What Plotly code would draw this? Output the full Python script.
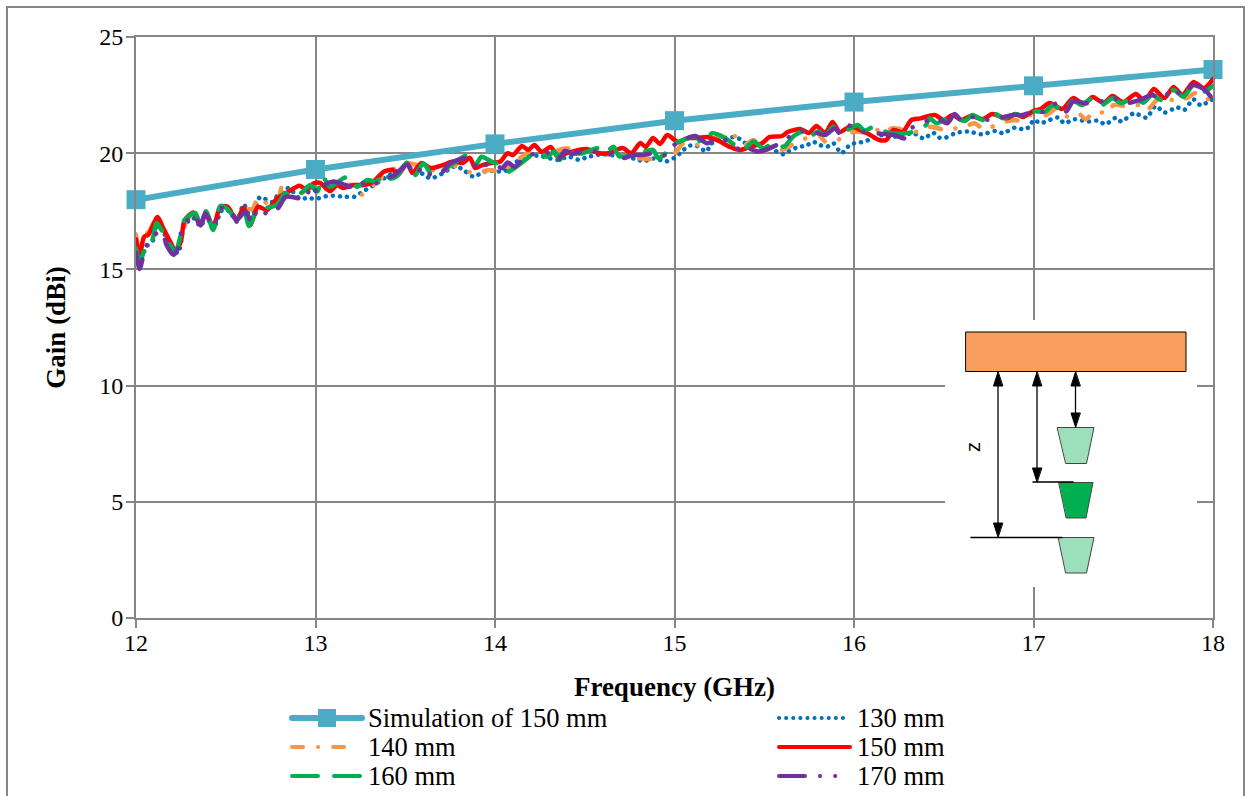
import plotly.graph_objects as go

sim_f = [12, 13, 14, 15, 16, 17, 18]
sim_g = [18.0, 19.3, 20.4, 21.4, 22.2, 22.9, 23.6]

red_f = [12.00,12.02,12.045,12.07,12.12,12.15,12.19,12.22,12.25,12.27,12.32,12.36,12.39,12.43,12.47,12.51,12.56,12.6,12.635,12.68,12.73,12.785,12.84,12.91,12.95,12.99,13.025,13.08,13.12,13.155,13.21,13.27,13.32,13.38,13.43,13.46,13.51,13.54,13.59,13.64,13.71,13.76,13.82,13.86,13.89,13.93,13.98,14.03,14.07,14.1,14.15,14.185,14.22,14.26,14.31,14.35,14.4,14.51,14.58,14.63,14.71,14.76,14.81,14.84,14.88,14.92,14.96,15.02,15.07,15.13,15.18,15.235,15.31,15.365,15.42,15.49,15.53,15.6,15.63,15.7,15.75,15.79,15.84,15.88,15.92,15.98,16.07,16.14,16.18,16.22,16.27,16.32,16.37,16.45,16.5,16.55,16.6,16.65,16.72,16.77,16.85,16.9,16.94,17.0,17.04,17.09,17.16,17.22,17.28,17.33,17.39,17.44,17.5,17.57,17.62,17.67,17.73,17.78,17.83,17.89,17.95,18.0]
red_g = [16.3,15.6,16.4,16.5,17.25,16.8,16.2,15.8,16.2,17.1,17.45,16.9,17.45,16.8,17.7,17.7,17.1,17.65,16.9,17.7,17.55,18.05,18.3,18.6,18.45,18.7,18.72,18.37,18.63,18.5,18.63,18.63,18.76,19.2,19.28,19.06,19.58,19.15,19.58,19.36,19.49,19.63,19.58,19.8,19.36,19.49,19.58,19.64,20.0,19.92,20.31,20.14,20.35,20.05,20.27,19.84,20.0,20.18,20.0,20.0,20.22,20.0,20.44,20.27,20.65,20.4,20.78,20.48,20.65,20.65,20.7,20.57,20.27,20.14,20.27,20.44,20.7,20.74,20.91,21.04,20.87,21.17,20.87,21.34,20.91,21.15,20.87,20.57,20.57,21.0,20.91,21.43,21.5,21.64,21.43,21.64,21.43,21.6,21.47,21.69,21.5,21.69,21.56,21.82,21.9,22.16,21.9,22.37,22.12,22.42,22.16,22.46,22.2,22.55,22.25,22.76,22.37,22.85,22.5,23.06,22.8,23.19]

green_f = [12.0,12.02,12.06,12.09,12.115,12.15,12.19,12.22,12.245,12.27,12.33,12.36,12.39,12.43,12.47,12.505,12.56,12.6,12.63,12.68,12.75,12.79,12.83,12.88,12.93,12.97,13.01,13.04,13.08,13.155,13.19,13.23,13.29,13.34,13.38,13.415,13.45,13.51,13.555,13.6,13.65,13.69,13.77,13.85,13.89,13.925,13.98,14.03,14.07,14.18,14.23,14.29,14.33,14.36,14.39,14.44,14.49,14.57,14.61,14.66,14.69,14.77,14.88,14.91,14.95,15.01,15.12,15.15,15.21,15.25,15.31,15.38,15.44,15.495,15.55,15.61,15.66,15.72,15.74,15.8,15.84,15.885,15.94,16.02,16.06,16.11,16.145,16.22,16.32,16.4,16.42,16.46,16.52,16.57,16.62,16.66,16.72,16.78,16.83,16.9,16.94,17.0,17.065,17.11,17.17,17.22,17.27,17.325,17.38,17.44,17.49,17.56,17.61,17.66,17.715,17.78,17.835,17.89,17.95,18.0]
green_g = [15.9,15.3,16.1,16.27,17.0,16.6,16.05,15.75,16.35,17.12,17.43,16.9,17.5,16.7,17.73,17.63,17.2,17.6,16.87,17.6,17.68,17.8,18.28,18.13,18.35,18.63,18.35,18.99,18.56,18.92,18.99,18.56,18.85,18.78,19.2,18.92,18.99,19.59,19.06,19.57,19.06,19.14,19.57,19.92,19.49,19.85,19.64,19.49,19.2,19.78,20.07,19.85,20.07,19.71,20.14,20.0,20.0,20.21,20.0,20.28,19.88,19.92,20.14,19.78,20.0,20.43,20.71,20.43,20.86,20.78,20.5,20.14,20.5,20.21,20.43,20.28,20.71,20.93,20.64,20.93,20.78,21.14,20.93,21.21,20.97,21.14,21.0,20.85,20.9,21.2,21.5,21.29,21.5,21.5,21.39,21.64,21.43,21.72,21.5,21.69,21.57,21.8,21.79,22.07,21.79,22.26,22.07,22.36,22.07,22.36,22.15,22.43,22.17,22.5,22.29,22.72,22.43,22.93,22.65,22.9]

purple_f = [12.0,12.02,12.04,12.06,12.10,12.145,12.17,12.21,12.24,12.255,12.32,12.36,12.385,12.43,12.47,12.525,12.56,12.61,12.645,12.68,12.72,12.755,12.79,12.835,12.905,12.95,12.97,13.015,13.05,13.1,13.23,13.29,13.34,13.4,13.44,13.51,13.555,13.6,13.64,13.70,13.75,13.84,13.88,13.92,13.95,13.99,14.04,14.07,14.11,14.16,14.23,14.31,14.35,14.39,14.43,14.46,14.55,14.62,14.71,14.77,14.82,14.89,14.95,14.99,15.05,15.115,15.18,15.25,15.32,15.375,15.42,15.47,15.59,15.64,15.72,15.77,15.84,15.895,15.92,15.96,16.0,16.05,16.22,16.285,16.31,16.46,16.52,16.56,16.6,16.65,16.72,16.795,16.89,16.94,17.0,17.065,17.13,17.18,17.22,17.29,17.35,17.44,17.51,17.59,17.66,17.72,17.78,17.825,17.89,17.955,17.99]
purple_g = [15.7,15.02,15.55,16.05,16.48,16.63,16.05,15.62,16.05,16.7,17.34,16.9,17.42,16.84,17.63,17.56,17.13,17.49,17.0,17.63,17.42,17.66,17.63,18.13,18.06,18.06,18.63,18.28,18.63,18.78,18.5,18.85,18.71,18.92,19.06,19.5,19.06,19.42,19.06,19.14,19.57,19.78,19.42,19.71,19.5,19.57,19.35,19.6,19.42,19.78,20.0,20.0,19.71,20.11,19.97,20.03,20.07,20.02,19.78,19.92,19.92,20.0,19.92,20.31,20.57,20.74,20.43,20.64,20.43,20.07,20.17,20.07,20.43,20.71,20.97,20.93,20.79,21.07,20.86,21.21,21.1,20.93,20.78,20.64,21.03,21.5,21.29,21.69,21.4,21.57,21.43,21.5,21.64,21.64,21.79,21.79,22.15,21.79,22.22,22.15,22.15,22.4,22.15,22.29,22.5,22.36,22.79,22.5,22.93,22.72,22.4]

orange_f = [12.0,12.02,12.05,12.07,12.12,12.16,12.2,12.22,12.26,12.28,12.32,12.36,12.39,12.43,12.47,12.52,12.56,12.6,12.65,12.68,12.74,12.79,12.82,12.88,12.95,13.0,13.05,13.2,13.25,13.396,13.51,13.71,13.75,13.88,13.97,14.04,14.08,14.21,14.29,14.39,14.53,14.71,14.92,14.97,15.0,15.05,15.15,15.22,15.31,15.34,15.39,15.44,15.5,15.6,15.67,15.75,15.79,15.84,15.91,15.97,16.02,16.09,16.155,16.18,16.21,16.35,16.42,16.51,16.535,16.6,16.67,16.73,16.795,16.89,16.935,16.98,17.07,17.13,17.19,17.25,17.29,17.34,17.42,17.445,17.53,17.59,17.63,17.69,17.75,17.81,17.85,17.9,17.94,18.0]
orange_g = [16.5,15.7,16.5,16.6,17.25,16.6,16.0,15.85,16.5,17.1,17.4,16.9,17.4,16.8,17.7,17.6,17.1,17.6,17.6,18.1,17.8,18.0,18.7,18.2,18.4,18.6,18.45,18.63,18.2,19.14,19.57,19.2,19.5,19.14,19.28,19.2,19.42,20.14,20.0,20.2,20.07,19.85,19.78,20.14,20.0,20.43,20.35,20.64,20.86,20.71,20.35,20.57,20.14,20.14,20.43,20.71,20.93,20.5,20.57,20.86,20.93,20.85,21.07,20.93,21.07,20.93,21.14,21.0,21.07,21.07,21.29,21.0,21.24,21.43,21.39,21.64,21.64,21.93,21.57,21.72,21.46,21.79,21.72,22.07,22.0,22.07,21.83,22.29,22.22,22.46,22.36,22.58,22.36,22.3]

blue_f = [12.0,12.02,12.06,12.1,12.12,12.16,12.2,12.235,12.27,12.32,12.36,12.39,12.43,12.48,12.52,12.56,12.6,12.64,12.69,12.76,12.79,12.85,12.91,12.95,13.015,13.07,13.1,13.155,13.22,13.25,13.34,13.43,13.53,13.64,13.71,13.77,13.81,13.88,13.94,14.0,14.05,14.16,14.25,14.35,14.41,14.47,14.51,14.59,14.71,14.79,14.83,14.87,14.92,14.95,15.01,15.04,15.08,15.115,15.145,15.18,15.2,15.27,15.34,15.38,15.42,15.46,15.53,15.57,15.61,15.64,15.68,15.74,15.77,15.81,15.85,15.885,15.93,15.98,16.02,16.06,16.1,16.16,16.24,16.33,16.39,16.44,16.475,16.51,16.57,16.64,16.71,16.79,16.83,16.9,16.94,16.98,17.0,17.04,17.08,17.14,17.17,17.23,17.3,17.36,17.4,17.46,17.49,17.56,17.63,17.68,17.73,17.8,17.84,17.89,17.93,18.0]
blue_g = [15.5,15.4,16.0,16.3,16.9,16.5,15.95,15.7,16.9,17.2,16.85,17.3,16.75,17.55,17.5,17.05,17.8,17.2,18.1,17.9,18.2,18.5,18.06,18.06,18.06,18.17,18.17,18.13,18.13,18.28,18.7,19.14,19.42,18.92,19.14,19.42,19.35,18.99,19.21,19.23,19.21,19.85,19.88,19.71,19.85,19.71,19.82,19.95,19.85,19.74,19.64,19.78,19.71,19.64,19.85,20.07,20.31,20.35,20.21,20.07,20.38,20.64,20.68,20.54,20.21,20.07,20.21,20.07,19.95,20.11,20.24,20.35,20.5,20.35,20.28,20.43,20.0,20.38,20.45,20.5,20.64,20.78,20.71,20.86,20.63,20.88,20.67,20.67,20.88,20.93,20.81,20.96,20.86,21.11,21.03,21.14,21.43,21.29,21.4,21.54,21.29,21.46,21.36,21.4,21.24,21.53,21.36,21.72,21.53,22.03,21.75,21.97,21.86,22.32,22.07,22.33]

legend_labels = ["Simulation of 150 mm", "130 mm", "140 mm", "150 mm", "160 mm", "170 mm"]
x_ticks = [12, 13, 14, 15, 16, 17, 18]
y_ticks = [0, 5, 10, 15, 20, 25]

W, H = 1255, 796
L, R, T, B = 136, 1213, 37, 618
GRID = "#868686"
SERIF = "Liberation Serif"
COL = dict(sim="#4BACC6", blue="#0070C0", orange="#F79646", red="#FF0000", green="#00B050", purple="#7030A0")
DASH = dict(blue="0.1px,7px", orange="11px,15px,0.1px,15px", red="solid", green="26px,16px",
            purple="26px,15px,0.1px,15px,0.1px,15px")


def px(x):
    return (x - L) / (R - L)


def py(y):
    return 1 - (y - T) / (B - T)


def line(x0, y0, x1, y1, color="black", width=1.5, dash="solid"):
    return dict(type="line", xref="paper", yref="paper", x0=px(x0), y0=py(y0), x1=px(x1), y1=py(y1),
                line=dict(color=color, width=width, dash=dash), layer="above")


def poly(points, fill, color="black", width=1):
    d = "M " + " L ".join(f"{px(a):.5f},{py(b):.5f}" for a, b in points) + " Z"
    return dict(type="path", xref="paper", yref="paper", path=d, fillcolor=fill,
                line=dict(color=color, width=width), layer="above")


fig = go.Figure()
fig.add_trace(go.Scatter(x=sim_f, y=sim_g, mode="lines+markers", name=legend_labels[0], cliponaxis=False,
                         line=dict(color=COL["sim"], width=6),
                         marker=dict(symbol="square", size=19, color=COL["sim"])))
for name, f, g, key in [(legend_labels[1], blue_f, blue_g, "blue"),
                        (legend_labels[2], orange_f, orange_g, "orange"),
                        (legend_labels[3], red_f, red_g, "red"),
                        (legend_labels[4], green_f, green_g, "green"),
                        (legend_labels[5], purple_f, purple_g, "purple")]:
    fig.add_trace(go.Scatter(x=f, y=g, mode="lines", name=name,
                             line=dict(color=COL[key], width=4.5, dash=DASH[key], shape="spline", smoothing=0.7)))

shapes = [dict(type="rect", xref="paper", yref="paper", x0=px(7), x1=px(1244), y0=py(7), y1=py(810),
               line=dict(color=GRID, width=2), layer="below")]

# inset diagram
shapes.append(dict(type="rect", xref="paper", yref="paper", x0=px(945), x1=px(1197), y0=py(320), y1=py(587),
                   fillcolor="white", line=dict(width=0), layer="above"))
shapes.append(dict(type="rect", xref="paper", yref="paper", x0=px(966), x1=px(1186), y0=py(332), y1=py(371.5),
                   fillcolor="#F79F5C", line=dict(color="black", width=1), layer="above"))
LIGHT = "#9BDFBB"
shapes.append(poly([(1057.5, 427.5), (1094, 427.5), (1086.5, 463.5), (1066, 463.5)], LIGHT, "#444444"))
shapes.append(poly([(1059, 482.5), (1093, 482.5), (1086, 518), (1066.5, 518)], "#00B050", "#444444"))
shapes.append(poly([(1058.5, 537.5), (1094, 537.5), (1086.5, 573), (1066, 573)], LIGHT, "#444444"))
shapes.append(line(971, 537.5, 1062, 537.5))
shapes.append(line(1033, 482, 1073, 482))
for ax, top, bot in [(998, 372, 537), (1037, 372, 482), (1075.5, 372, 427)]:
    shapes.append(line(ax, top + 12, ax, bot - 12, width=1.3))
    shapes.append(poly([(ax, top), (ax - 4.5, top + 14), (ax + 4.5, top + 14)], "black"))
    shapes.append(poly([(ax, bot), (ax - 4.5, bot - 14), (ax + 4.5, bot - 14)], "black"))

# two-column legend
rows = [718, 747, 776]
entries = [(legend_labels[0], "sim", 0, 0), (legend_labels[1], "blue", 1, 0), (legend_labels[2], "orange", 0, 1),
           (legend_labels[3], "red", 1, 1), (legend_labels[4], "green", 0, 2), (legend_labels[5], "purple", 1, 2)]
annotations = []
for label, key, col, row in entries:
    x0, x1, tx = (292, 362, 368) if col == 0 else (779, 850, 857)
    y = rows[row]
    if key == "orange":
        x1 = 349
    if key == "purple":
        x1 = 839
    if key == "sim":
        shapes.append(line(x0, y, x1, y, COL[key], 6))
        shapes.append(dict(type="rect", xref="paper", yref="paper", x0=px(318), x1=px(336), y0=py(y - 9), y1=py(y + 9),
                           fillcolor=COL[key], line=dict(width=0), layer="above"))
    else:
        shapes.append(line(x0, y, x1, y, COL[key], 4, DASH[key]))
    annotations.append(dict(text=label, xref="paper", yref="paper", x=px(tx), y=py(y), xanchor="left", yanchor="middle",
                            showarrow=False, borderpad=0, borderwidth=0, font=dict(family=SERIF, size=26.5, color="black")))
annotations.append(dict(text="z", xref="paper", yref="paper", x=px(973), y=py(447), xanchor="center", yanchor="middle",
                        showarrow=False, textangle=-90, font=dict(family="Liberation Sans", size=20, color="black")))

fig.update_layout(
    width=W, height=H, margin=dict(l=L, r=W - R, t=T, b=H - B),
    paper_bgcolor="white", plot_bgcolor="white", showlegend=False,
    font=dict(family=SERIF, size=24, color="black"),
    shapes=shapes, annotations=annotations,
    xaxis=dict(range=[12, 18], tickvals=x_ticks, ticks="outside", ticklen=8, tickwidth=2, tickcolor=GRID,
               gridcolor=GRID, gridwidth=2, zeroline=False, showline=True, linecolor=GRID, linewidth=2, mirror=True,
               tickfont=dict(family=SERIF, size=24), ticklabelstandoff=-6,
               title=dict(text="<b>Frequency (GHz)</b>", font=dict(family=SERIF, size=27), standoff=22)),
    yaxis=dict(range=[0, 25], tickvals=y_ticks, ticks="outside", ticklen=8, tickwidth=2, tickcolor=GRID,
               gridcolor=GRID, gridwidth=2, zeroline=False, showline=True, linecolor=GRID, linewidth=2, mirror=True,
               tickfont=dict(family=SERIF, size=24), ticklabelstandoff=-2,
               title=dict(text="<b>Gain (dBi)</b>", font=dict(family=SERIF, size=27), standoff=26)),
)
PAGE_STYLE = """
document.body.style.margin = '0';
var s = document.createElement('style');
s.textContent = '.js-line, .shapelayer path { stroke-linecap: round; }';
document.head.appendChild(s);
"""
fig.write_html("out.html", post_script=PAGE_STYLE, config={"displayModeBar": False})
